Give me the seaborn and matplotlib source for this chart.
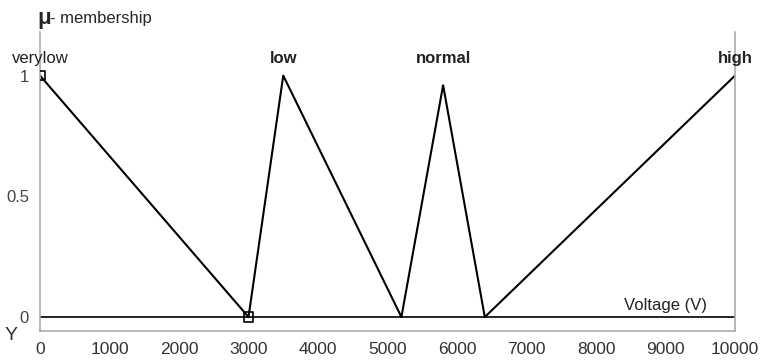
import pandas as pd
import numpy as np
import seaborn as sns
import matplotlib.pyplot as plt

# membership functions (voltage breakpoints, membership degree)
sets = ['very low', 'low', 'normal', 'high']
very_low_x = [0, 3000]
very_low_y = [1, 0]
low_x = [3000, 3500, 5200]
low_y = [0, 1, 0]
normal_x = [5200, 5800, 6400]
normal_y = [0, 0.96, 0]
high_x = [6400, 10000]
high_y = [0, 1]

# label positions on top of each set
label_x = [0, 3500, 5800, 10000]

xticks = [0, 1000, 2000, 3000, 4000, 5000, 6000, 7000, 8000, 9000, 10000]
yticks = [0, 0.5, 1]

frames = []
for name, xs, ys in zip(sets, [very_low_x, low_x, normal_x, high_x],
                        [very_low_y, low_y, normal_y, high_y]):
    frames.append(pd.DataFrame({'x': xs, 'y': ys, 'set': name}))
df = pd.concat(frames, ignore_index=True)

sns.set_style('white')
plt.rcParams['font.family'] = ['Liberation Sans', 'DejaVu Sans']

fig = plt.figure(figsize=(7.65, 3.61), dpi=100)
ax = fig.add_axes([0.0523, 0.083, 0.9085, 0.828])

sns.lineplot(data=df, x='x', y='y', hue='set', palette=['black'] * 4,
             sort=False, estimator=None, legend=False, linewidth=1.5, ax=ax)

# open squares at the selected points
sns.scatterplot(x=[very_low_x[0], very_low_x[1]], y=[very_low_y[0], very_low_y[1]],
                marker='s', s=45, facecolor='none', edgecolor='black',
                linewidth=1.2, ax=ax, zorder=5)

ax.axhline(0, color='black', linewidth=1.2)

ax.set_xlim(0, 10000)
ax.set_ylim(-0.058, 1.18)
ax.set_xticks(xticks)
ax.set_yticks(yticks)
ax.set_yticklabels(['0', '0.5', '1'])
ax.tick_params(axis='x', direction='in', length=8, width=1, color='#999999',
               labelsize=12.5, labelcolor='#333333', pad=8)
ax.tick_params(axis='y', length=0, labelsize=12, labelcolor='#444444', pad=8)
ax.set_xlabel('')
ax.set_ylabel('')

for side in ['left', 'right', 'bottom']:
    ax.spines[side].set_color('#aaaaaa')
    ax.spines[side].set_linewidth(1.2)
ax.spines['top'].set_visible(False)

for name, lx in zip(sets, label_x):
    ax.text(lx, 1.07, name if name != 'very low' else 'verylow', ha='center', va='center',
            fontsize=12, color='#222222', fontweight='bold' if name != 'very low' else 'normal')

fig.text(0.049, 0.95, '\u03bc', fontsize=16, fontweight='bold', ha='left', va='center')
fig.text(0.066, 0.95, '- membership', fontsize=12, ha='left', va='center')
ax.text(9600, 0.015, 'Voltage (V)', ha='right', va='bottom', fontsize=12, color='#222222')
fig.text(0.015, 0.07, 'Y', fontsize=14, color='#333333', ha='center', va='center')

fig.savefig('out.png', dpi=100)
